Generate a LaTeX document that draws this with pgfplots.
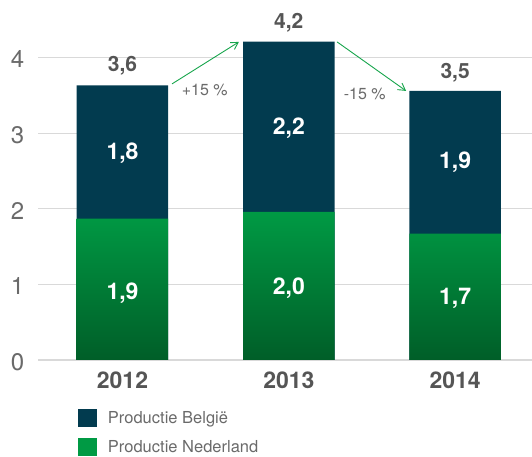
\documentclass[border=0pt]{standalone}
\usepackage{fontspec}
\setmainfont{TeX Gyre Heros}
\usepackage{pgfplots}
\usepackage{pgfplotstable}
\pgfplotsset{compat=1.18}
\usetikzlibrary{arrows.meta}
\definecolor{navy}{HTML}{023B4F}
\definecolor{grn}{HTML}{009A44}
\definecolor{dkgrn}{HTML}{005E28}
\definecolor{arrgrn}{HTML}{17A54C}
\definecolor{gridgray}{HTML}{D9D9D9}
\definecolor{tickgray}{HTML}{6A6A6A}
\definecolor{catgray}{HTML}{555555}

\pgfplotstableread{
x total green
0 3.63 1.87
1 4.21 1.96
2 3.56 1.67
}\bars
\pgfplotstableread{
x y label
0 2.74 1,8
1 3.06 2,2
2 2.61 1,9
0 0.89 1,9
1 0.95 2,0
2 0.81 1,7
}\inlabels
\pgfplotstableread{
x y label
0 3.89 3,6
1 4.46 4,2
2 3.80 3,5
}\totlabels

\begin{document}
\begin{tikzpicture}
\path[use as bounding box] (-38.5pt,-97pt) rectangle (493.5pt,360pt);
\begin{axis}[
  at={(0pt,0pt)}, anchor=south west,
  scale only axis, width=493.5pt, height=360pt,
  xmin=-0.505, xmax=2.462, ymin=0, ymax=4.76,
  clip=false,
  axis line style={draw=none},
  major tick length=0pt,
  ytick={0,1,2,3,4},
  ymajorgrids, grid style={gridgray, line width=1.2pt},
  xtick={0,1,2}, xticklabels={2012,2013,2014},
  /pgf/number format/assume math mode=true,
  yticklabel style={font=\fontsize{24}{26}\selectfont, text=tickgray, anchor=center, xshift=-21pt, yshift=-2pt},
  xticklabel style={font=\fontsize{23}{26}\selectfont\bfseries, text=catgray, anchor=center, yshift=-20pt},
  legend style={at={(0.080,-0.137)}, anchor=north west, draw=none, fill=none,
    inner sep=0pt, outer sep=0pt, row sep=11pt,
    font=\fontsize{16.5}{19}\selectfont, text=tickgray,
    /tikz/every odd column/.append style={column sep=9pt}},
  legend cell align=left,
  legend image code/.code={\fill[#1] (0pt,-9pt) rectangle (19pt,9pt);},
]
\addlegendimage{fill=navy, draw=none}
\addlegendentry{Productie België}
\addlegendimage{fill=grn, draw=none}
\addlegendentry{Productie Nederland}

\addplot[ybar, bar width=91.5pt, bar shift=0pt, fill=navy, draw=none, forget plot]
  table[x=x, y=total] {\bars};
\addplot[ybar, bar width=91.5pt, bar shift=0pt, draw=none, top color=grn, middle color=grn, bottom color=dkgrn, forget plot]
  table[x=x, y=green] {\bars};

\addplot[only marks, mark=none, forget plot, point meta=explicit symbolic,
  nodes near coords, nodes near coords align=center,
  every node near coord/.append style={font=\fontsize{23}{26}\selectfont\bfseries, text=white, anchor=center}]
  table[x=x, y=y, meta=label] {\inlabels};
\addplot[only marks, mark=none, forget plot, point meta=explicit symbolic,
  nodes near coords, nodes near coords align=center,
  every node near coord/.append style={font=\fontsize{21}{24}\selectfont\bfseries, text=catgray, anchor=center}]
  table[x=x, y=y, meta=label] {\totlabels};

\draw[arrgrn, line width=0.9pt, -{Straight Barb[angle=60:8pt]}] (axis cs:0.298,3.651) -- (axis cs:0.70,4.206);
\draw[arrgrn, line width=0.9pt, -{Straight Barb[angle=60:8pt]}] (axis cs:1.29,4.206) -- (axis cs:1.705,3.558);
\node[font=\fontsize{16}{18}\selectfont, text=tickgray] at (axis cs:0.494,3.57) {+15 \%};
\node[font=\fontsize{16}{18}\selectfont, text=tickgray] at (axis cs:1.456,3.52) {-15 \%};
\end{axis}
\end{tikzpicture}
\end{document}
